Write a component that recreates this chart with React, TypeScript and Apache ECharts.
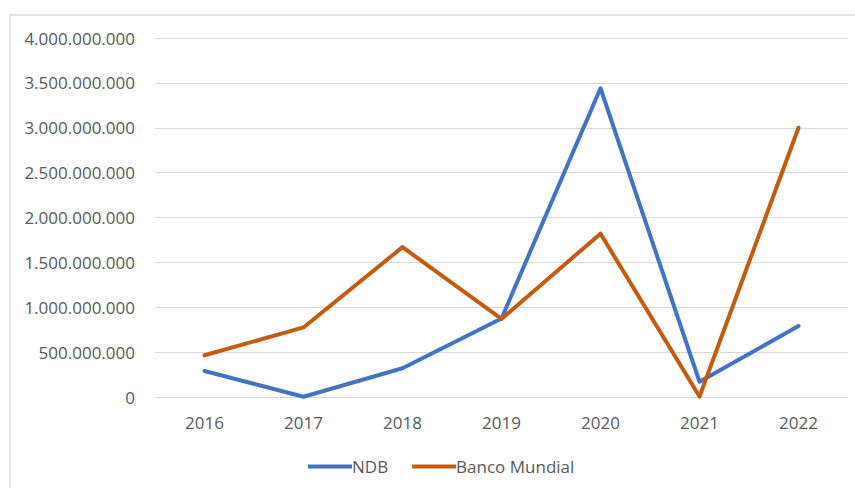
import React, { useEffect, useRef } from "react";
import * as echarts from "echarts";

// Annual amounts by year, in units of currency
const years = ["2016", "2017", "2018", "2019", "2020", "2021", "2022"];
const ndb = [290000000, 3000000, 320000000, 875000000, 3440000000, 170000000, 790000000];
const bancoMundial = [465000000, 775000000, 1670000000, 870000000, 1820000000, 5000000, 3000000000];

const seriesNames = ["NDB", "Banco Mundial"];
const seriesColors = ["#4472C4", "#C55A11"];

const FONT = "'Open Sans', sans-serif";
const TEXT = "#595959";
const FONT_SIZE = 17;

// 4000000000 -> "4.000.000.000"
const dotThousands = (v: number): string =>
  String(Math.round(v)).replace(/\B(?=(\d{3})+(?!\d))/g, ".");

export default function App() {
  const ref = useRef<HTMLDivElement>(null);

  useEffect(() => {
    if (!ref.current) return;
    const chart = echarts.init(ref.current, null, { renderer: "svg" });
    const data = [ndb, bancoMundial];
    chart.setOption({
      animation: false,
      backgroundColor: "#ffffff",
      graphic: [
        {
          type: "rect",
          shape: { x: 10, y: 15, width: 870, height: 500 },
          style: { fill: "none", stroke: "#d9d9d9", lineWidth: 1.5 },
          silent: true,
        },
      ],
      grid: { left: 155, right: 7, top: 38, bottom: 91 },
      legend: {
        bottom: 8,
        left: 303,
        icon: "rect",
        itemWidth: 44,
        itemHeight: 4,
        itemGap: 24,
        textStyle: { color: TEXT, fontFamily: FONT, fontSize: FONT_SIZE, padding: [0, 0, 0, -5] },
        data: seriesNames,
      },
      xAxis: {
        type: "category",
        data: years,
        boundaryGap: true,
        axisLine: { show: true, lineStyle: { color: "#d9d9d9", width: 1 } },
        axisTick: { show: false },
        axisLabel: { color: TEXT, fontFamily: FONT, fontSize: FONT_SIZE, margin: 17 },
      },
      yAxis: {
        type: "value",
        min: 0,
        max: 4000000000,
        interval: 500000000,
        axisLine: { show: false },
        axisTick: { show: false },
        splitLine: { lineStyle: { color: "#d9d9d9", width: 1 } },
        axisLabel: {
          color: TEXT,
          fontFamily: FONT,
          fontSize: FONT_SIZE,
          margin: 20,
          formatter: (v: number) => dotThousands(v),
        },
      },
      series: seriesNames.map((name, i) => ({
        name,
        type: "line",
        data: data[i],
        showSymbol: false,
        symbol: "none",
        color: seriesColors[i],
        lineStyle: { color: seriesColors[i], width: 4, cap: "round", join: "round" },
      })),
    });
    return () => chart.dispose();
  }, []);

  return (
    <div
      ref={ref}
      style={{ position: "absolute", left: 0, top: 0, width: 855, height: 488, background: "#fff" }}
    />
  );
}
